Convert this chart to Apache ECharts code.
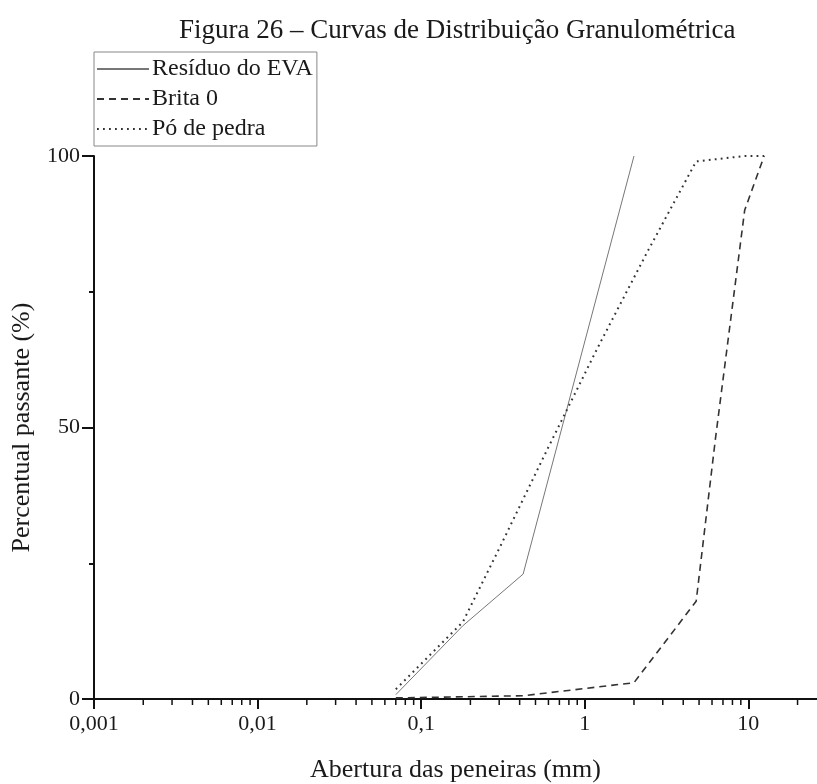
<!DOCTYPE html>
<html>
<head>
<meta charset="utf-8">
<script src="https://cdn.jsdelivr.net/npm/echarts@6/dist/echarts.min.js"></script>
<style>html,body{margin:0;padding:0;background:#fff}#c{width:817px;height:784px}</style>
</head>
<body>
<div id="c"></div>
<script>
// Data (abertura mm, % passante)
const seriesNames = ['Resíduo do EVA', 'Brita 0', 'Pó de pedra'];
const residuoEVA = [[0.07, 0.8], [0.18, 13.5], [0.42, 23], [2.0, 100]];
const brita0 = [[0.07, 0.2], [0.42, 0.6], [2.0, 3.0], [4.8, 18], [6.3, 48], [9.5, 90], [12.5, 100]];
const poDePedra = [[0.07, 1.8], [0.18, 14.2], [0.3, 27.7], [0.6, 46.4], [1.2, 64.7], [2.4, 82.2], [4.8, 99], [9.5, 100], [12.5, 100]];
const xMin = 0.001, xMax = 26.3;
const minorTickValues = [0.002,0.003,0.004,0.005,0.006,0.007,0.008,0.009,
  0.02,0.03,0.04,0.05,0.06,0.07,0.08,0.09,
  0.2,0.3,0.4,0.5,0.6,0.7,0.8,0.9,
  2,3,4,5,6,7,8,9,20];

const FONT = '"Liberation Serif", "DejaVu Serif", serif';
const chart = echarts.init(document.getElementById('c'), null, {renderer: 'canvas'});
function fmt(v) {
  const l = Math.log10(v);
  if (Math.abs(l - Math.round(l)) > 1e-6) return '';
  return String(Number(v.toPrecision(6))).replace('.', ',');
}
chart.setOption({
  animation: false,
  backgroundColor: '#fff',
  title: {
    text: 'Figura 26 – Curvas de Distribuição Granulométrica',
    left: 174, top: 12,
    textStyle: {fontFamily: FONT, fontSize: 27, fontWeight: 'normal', color: '#1a1a1a'}
  },
  legend: {
    data: seriesNames,
    orient: 'vertical',
    left: 94, top: 52,
    itemWidth: 52, itemHeight: 12, itemGap: 6,
    padding: [5, 4, 5, 2],
    borderColor: '#888', borderWidth: 1,
    itemStyle: {opacity: 0},
    textStyle: {fontFamily: FONT, fontSize: 24, color: '#1a1a1a', padding: [0, 0, 0, -2]}
  },
  grid: {left: 94, right: 0, top: 156, bottom: 85, containLabel: false, outerBoundsMode: 'none'},
  xAxis: [{
    type: 'log', logBase: 10, min: xMin, max: xMax,
    name: 'Abertura das peneiras (mm)', nameLocation: 'middle', nameGap: 58,
    nameTextStyle: {fontFamily: FONT, fontSize: 26, color: '#1a1a1a'},
    axisLine: {show: true, onZero: false, lineStyle: {color: '#111', width: 2}},
    axisTick: {show: true, inside: false, length: 10, lineStyle: {color: '#111', width: 2}},
    axisLabel: {formatter: fmt, fontFamily: FONT, fontSize: 22, color: '#1a1a1a', margin: 14, showMaxLabel: false},
    splitLine: {show: false}
  }, {
    type: 'value', position: 'top', min: 0, max: 1,
    axisLine: {show: true, lineStyle: {color: '#111', width: 2}},
    axisTick: {show: false}, axisLabel: {show: false}, splitLine: {show: false}
  }],
  yAxis: {
    type: 'value', min: 0, max: 100, interval: 50,
    name: 'Percentual passante (%)', nameLocation: 'middle', nameGap: 59,
    nameTextStyle: {fontFamily: FONT, fontSize: 26, color: '#1a1a1a'},
    axisLine: {show: true, onZero: false, lineStyle: {color: '#111', width: 2}},
    axisTick: {show: true, length: 12, lineStyle: {color: '#111', width: 2}},
    minorTick: {show: true, splitNumber: 2, length: 5, lineStyle: {color: '#111', width: 2}},
    axisLabel: {fontFamily: FONT, fontSize: 22, color: '#1a1a1a', margin: 14},
    splitLine: {show: false}
  },
  series: [{
    name: seriesNames[0], type: 'line', data: residuoEVA, symbol: 'none',
    lineStyle: {color: '#777', width: 1, type: 'solid'}, itemStyle: {color: '#777'}
  }, {
    name: seriesNames[1], type: 'line', data: brita0, symbol: 'none',
    lineStyle: {color: '#333', width: 1.6, type: [7, 5]}, itemStyle: {color: '#333'}
  }, {
    name: seriesNames[2], type: 'line', data: poDePedra, symbol: 'none',
    lineStyle: {color: '#333', width: 2, type: [1.8, 4.2]}, itemStyle: {color: '#333'}
  }, {
    name: 'minorTicks', type: 'custom', clip: false, silent: true,
    data: minorTickValues.map(v => [v, 0]),
    renderItem: function (params, api) {
      const p = api.coord([api.value(0), api.value(1)]);
      return {type: 'line', shape: {x1: p[0], y1: p[1], x2: p[0], y2: p[1] + 6},
        style: {stroke: '#111', lineWidth: 1.5}};
    }
  }]
});
</script>
</body>
</html>
